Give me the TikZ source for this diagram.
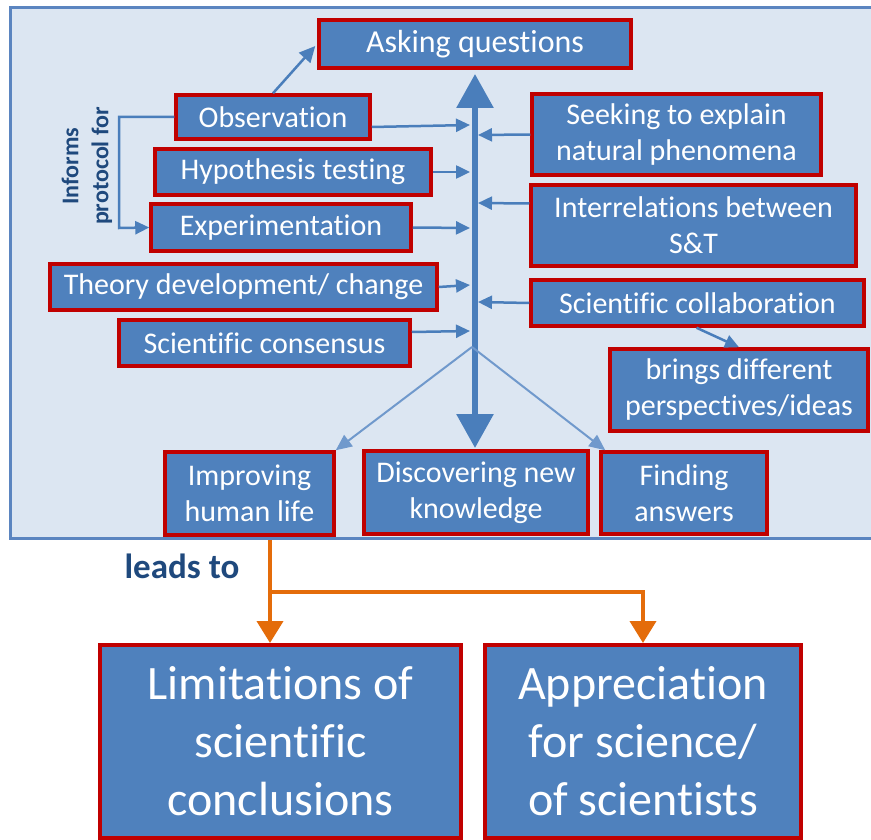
\documentclass[tikz,border=0pt]{standalone}
\usepackage{fontspec}
\setmainfont{Carlito}[Ligatures=CommonOff]
\usetikzlibrary{arrows.meta}
\definecolor{bfill}{HTML}{4F81BD}
\definecolor{bred}{HTML}{C00000}
\definecolor{bgback}{HTML}{DCE6F2}
\definecolor{bgline}{HTML}{5B85C0}
\definecolor{arr}{HTML}{4A7EBB}
\definecolor{arrlight}{HTML}{7099CC}
\definecolor{orng}{HTML}{E46C0A}
\definecolor{dblue}{HTML}{1F497D}
\tikzset{
  bx/.style={draw=bred, fill=bfill, line width=3.5pt, text=white, inner sep=0pt, align=center,
    font=\fontsize{30}{36}\selectfont},
  bigbx/.style={bx, line width=4pt, font=\fontsize{48}{58}\selectfont},
  thin/.style={draw=arr, line width=2.5pt, -{Triangle[length=14pt,width=13pt]}},
  diag/.style={draw=arrlight, line width=2pt, -{Triangle[length=16pt,width=14pt]}},
  orar/.style={draw=orng, line width=4pt, -{Triangle[length=22pt,width=26pt]}},
}
\begin{document}
\begin{tikzpicture}[x=1pt,y=-1pt]
\useasboundingbox (0,0) rectangle (871,840);
\fill[white] (0,0) rectangle (871,840);
\draw[fill=bgback, draw=bgline, line width=3pt] (10,8) rectangle (885,538);

\node[bx, minimum width=312, minimum height=48, font=\fontsize{32}{38}\selectfont] (ask) at (475,44) {Asking questions};
\node[bx, minimum width=194, minimum height=44] (obs) at (273,117) {Observation};
\node[bx, minimum width=276, minimum height=46] (hyp) at (293,172) {Hypothesis testing};
\node[bx, minimum width=260, minimum height=47] (exp) at (281,227.5) {Experimentation};
\node[bx, minimum width=387, minimum height=46] (theo) at (243.5,287) {Theory development/ change};
\node[bx, minimum width=291, minimum height=46] (cons) at (264.5,343) {Scientific consensus};
\node[bx, minimum width=169, minimum height=83] (impr) at (249.5,493.5) {Improving\\human life};
\node[bx, minimum width=224, minimum height=83] (disc) at (476,492.5) {Discovering new\\knowledge};
\node[bx, minimum width=166, minimum height=82] (find) at (684,493) {Finding\\answers};
\node[bx, minimum width=289, minimum height=81] (seek) at (676.5,134.5) {Seeking to explain\\natural phenomena};
\node[bx, minimum width=325, minimum height=81] (inter) at (693.5,225.5) {Interrelations between\\S\&T};
\node[bx, minimum width=333, minimum height=46] (coll) at (697.5,303) {Scientific collaboration};
\node[bx, minimum width=258, minimum height=82] (brings) at (739,390) {brings different\\perspectives/ideas};
\node[bigbx, minimum width=361, minimum height=193] (lim) at (280.5,741.5) {Limitations of\\scientific\\conclusions};
\node[bigbx, minimum width=316, minimum height=193] (app) at (643,741.5) {Appreciation\\for science/\\of scientists};

\node[rotate=90, text=dblue, align=center, inner sep=0pt, font=\bfseries\fontsize{24}{30}\selectfont] (inf) at (87,166) {Informs\\protocol for};
\node[text=dblue, inner sep=0pt, font=\bfseries\fontsize{35}{40}\selectfont] (leads) at (182,566) {leads to};

% central double arrow
\coordinate (ctop) at (475,74);
\coordinate (cbot) at (475,448);
\draw[draw=arr, line width=6pt, {Triangle[length=34pt,width=36pt]}-{Triangle[length=34pt,width=36pt]}] (ctop) -- (cbot);

% horizontal inputs
\coordinate (tObs) at (470,125);
\coordinate (tSeek) at (478,135);
\coordinate (tHyp) at (470,172);
\coordinate (tInter) at (478,203);
\coordinate (tExp) at (470,228);
\coordinate (tTheo) at (470,285);
\coordinate (tColl) at (478,302);
\coordinate (tCons) at (470,331);
\draw[thin] ([yshift=-10pt]obs.east) -- (tObs);
\draw[thin] (seek.west) -- (tSeek);
\draw[thin] (hyp.east) -- (tHyp);
\draw[thin] ([yshift=22pt]inter.west) -- (tInter);
\draw[thin] (exp.east) -- (tExp);
\draw[thin] (theo.east) -- (tTheo);
\draw[thin] (coll.west) -- (tColl);
\draw[thin] ([yshift=11pt]cons.east) -- (tCons);

% observation -> asking
\draw[thin, -{Triangle[length=16pt,width=15pt]}] (obs.north) -- ([yshift=-2pt,xshift=-2pt]ask.west);
% informs bracket
\coordinate (br1) at (119,117);
\coordinate (br2) at (119,228);
\draw[thin] (obs.west) -- (br1) -- (br2) -- (exp.west);
% collaboration -> brings
\draw[thin] ([xshift=-1pt]coll.south) -- (brings.north);

% diagonals
\coordinate (dsplit) at (472,347);
\draw[diag] (dsplit) -- (impr.north east);
\draw[diag] (dsplit) -- ([xshift=6pt]find.north west);

% orange
\coordinate (ostart) at (270,540);
\coordinate (obr) at (270,592);
\coordinate (obr2) at (643,592);
\draw[orar] (ostart) -- (lim.north -| ostart);
\draw[orar] (obr) -- (obr2) -- (app.north);
\end{tikzpicture}
\end{document}
